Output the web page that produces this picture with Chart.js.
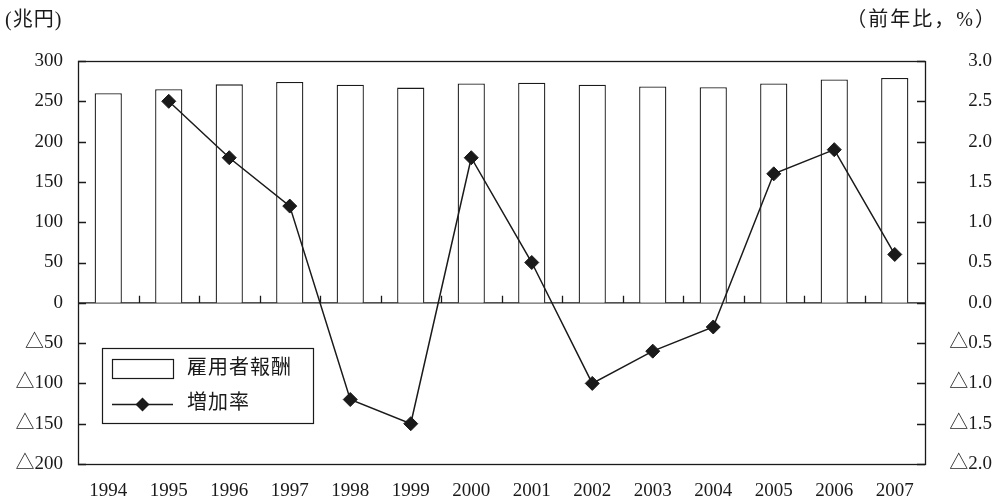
<!DOCTYPE html>
<html>
<head>
<meta charset="utf-8">
<script src="https://cdn.jsdelivr.net/npm/chart.js@4/dist/chart.umd.min.js"></script>
<style>
  html, body { margin: 0; padding: 0; background: #fff; }
  #wrap { width: 999px; height: 504px; position: relative; }
</style>
</head>
<body>
<div id="wrap"><canvas id="c" width="999" height="504"></canvas></div>
<script>
// 年次
const years = ['1994','1995','1996','1997','1998','1999','2000','2001','2002','2003','2004','2005','2006','2007'];
// 雇用者報酬（兆円）
const compensation = [260, 265, 271, 274, 270.5, 267, 272, 273, 270.5, 268.5, 267.5, 272, 277, 279];
// 増加率（前年比，%）
const growthRate = [null, 2.5, 1.8, 1.2, -1.2, -1.5, 1.8, 0.5, -1.0, -0.6, -0.3, 1.6, 1.9, 0.6];

const leftTicks = { min: -200, max: 300, step: 50 };
const rightTicks = { min: -2.0, max: 3.0, step: 0.5 };

const SERIF = '"Liberation Serif", "Noto Sans CJK JP", serif';
const INK = '#1a1a1a';

function markNegative(v, digits) {
  const s = Math.abs(v).toFixed(digits);
  return v < 0 ? '\u25B3' + s : s;
}

// frame, inward ticks, zero line with category ticks, unit captions and legend
const decorations = {
  id: 'decorations',
  beforeDatasetsDraw(chart) {
    const { ctx, chartArea: a, scales } = chart;
    const x = scales.x, y = scales.y, y1 = scales.y1;
    ctx.save();
    ctx.strokeStyle = INK;
    ctx.lineWidth = 1.3;
    // zero line
    const y0 = y.getPixelForValue(0);
    ctx.beginPath();
    ctx.moveTo(a.left, y0);
    ctx.lineTo(a.right, y0);
    // ticks on the zero line at category boundaries
    for (let i = 1; i < years.length; i++) {
      const bx = Math.round((x.getPixelForValue(i - 1) + x.getPixelForValue(i)) / 2) + 0.5;
      ctx.moveTo(bx, y0);
      ctx.lineTo(bx, y0 - 7);
    }
    // inward ticks on the left and right axes
    y.ticks.forEach(t => {
      const py = Math.round(y.getPixelForValue(t.value)) + 0.5;
      ctx.moveTo(a.left, py);
      ctx.lineTo(a.left + 8, py);
    });
    y1.ticks.forEach(t => {
      const py = Math.round(y1.getPixelForValue(t.value)) + 0.5;
      ctx.moveTo(a.right, py);
      ctx.lineTo(a.right - 8, py);
    });
    ctx.stroke();
    ctx.restore();
  },
  afterDatasetsDraw(chart) {
    const { ctx, chartArea: a } = chart;
    ctx.save();
    ctx.strokeStyle = INK;
    ctx.lineWidth = 1.3;
    ctx.strokeRect(Math.round(a.left) + 0.5, Math.round(a.top) + 0.5,
                   Math.round(a.right - a.left), Math.round(a.bottom - a.top));

    // unit captions
    ctx.fillStyle = INK;
    ctx.font = '20px ' + SERIF;
    ctx.textBaseline = 'middle';
    ctx.textAlign = 'left';
    ctx.letterSpacing = '1px';
    ctx.fillText('(兆円)', 5, 21);
    ctx.textAlign = 'right';
    ctx.letterSpacing = '2px';
    ctx.fillText('（前年比，%）', 997, 21);
    ctx.letterSpacing = '0px';

    // legend
    const bar = chart.data.datasets[0], line = chart.data.datasets[1];
    const L = 102, T = 348, W = 211, H = 75;
    ctx.fillStyle = '#fff';
    ctx.fillRect(L, T, W, H);
    ctx.lineWidth = 1.2;
    ctx.strokeStyle = INK;
    ctx.strokeRect(L + 0.5, T + 0.5, W, H);
    // bar swatch
    ctx.strokeRect(112.5, 359.5, 61, 19);
    // line swatch
    ctx.beginPath();
    ctx.lineWidth = 1.5;
    ctx.moveTo(112, 404.5);
    ctx.lineTo(173, 404.5);
    ctx.stroke();
    const cx = 142.5, cy = 404.5, r = 7;
    ctx.beginPath();
    ctx.moveTo(cx - r, cy); ctx.lineTo(cx, cy - r); ctx.lineTo(cx + r, cy); ctx.lineTo(cx, cy + r);
    ctx.closePath();
    ctx.fillStyle = INK;
    ctx.fill();
    // labels
    ctx.textAlign = 'left';
    ctx.textBaseline = 'middle';
    ctx.font = '20px ' + SERIF;
    ctx.letterSpacing = '1px';
    ctx.fillText(bar.label, 187, 369);
    ctx.fillText(line.label, 187, 404);
    ctx.restore();
  }
};

new Chart(document.getElementById('c'), {
  data: {
    labels: years,
    datasets: [
      {
        type: 'bar',
        label: '雇用者報酬',
        data: compensation,
        yAxisID: 'y',
        backgroundColor: '#ffffff',
        borderColor: INK,
        borderWidth: 1.3,
        barPercentage: 0.45,
        categoryPercentage: 1,
        order: 1
      },
      {
        type: 'line',
        label: '増加率',
        data: growthRate,
        yAxisID: 'y1',
        borderColor: INK,
        borderWidth: 1.5,
        pointStyle: 'rectRot',
        pointRadius: 7,
        pointBackgroundColor: INK,
        pointBorderColor: INK,
        pointBorderWidth: 1,
        tension: 0,
        spanGaps: false,
        order: 0
      }
    ]
  },
  options: {
    responsive: false,
    animation: false,
    events: [],
    layout: { padding: { top: 61, left: 0, right: 7, bottom: 0 } },
    plugins: { legend: { display: false }, tooltip: { enabled: false } },
    scales: {
      x: {
        offset: true,
        grid: { display: false, drawTicks: false },
        border: { display: false },
        ticks: { color: INK, font: { family: SERIF, size: 19 }, padding: 16, maxRotation: 0, autoSkip: false },
        afterFit(s) { s.height = 40; }
      },
      y: {
        position: 'left',
        min: leftTicks.min, max: leftTicks.max,
        grid: { display: false, drawTicks: false },
        border: { display: false },
        ticks: {
          stepSize: leftTicks.step, color: INK, padding: 15,
          font: { family: SERIF, size: 19 },
          callback: v => markNegative(v, 0)
        },
        afterFit(s) { s.width = 78; }
      },
      y1: {
        position: 'right',
        min: rightTicks.min, max: rightTicks.max,
        grid: { display: false, drawTicks: false },
        border: { display: false },
        ticks: {
          stepSize: rightTicks.step, color: INK, crossAlign: 'far',
          font: { family: SERIF, size: 19 },
          callback: v => markNegative(v, 1)
        },
        afterFit(s) { s.width = 67; }
      }
    }
  },
  plugins: [decorations]
});
</script>
</body>
</html>
